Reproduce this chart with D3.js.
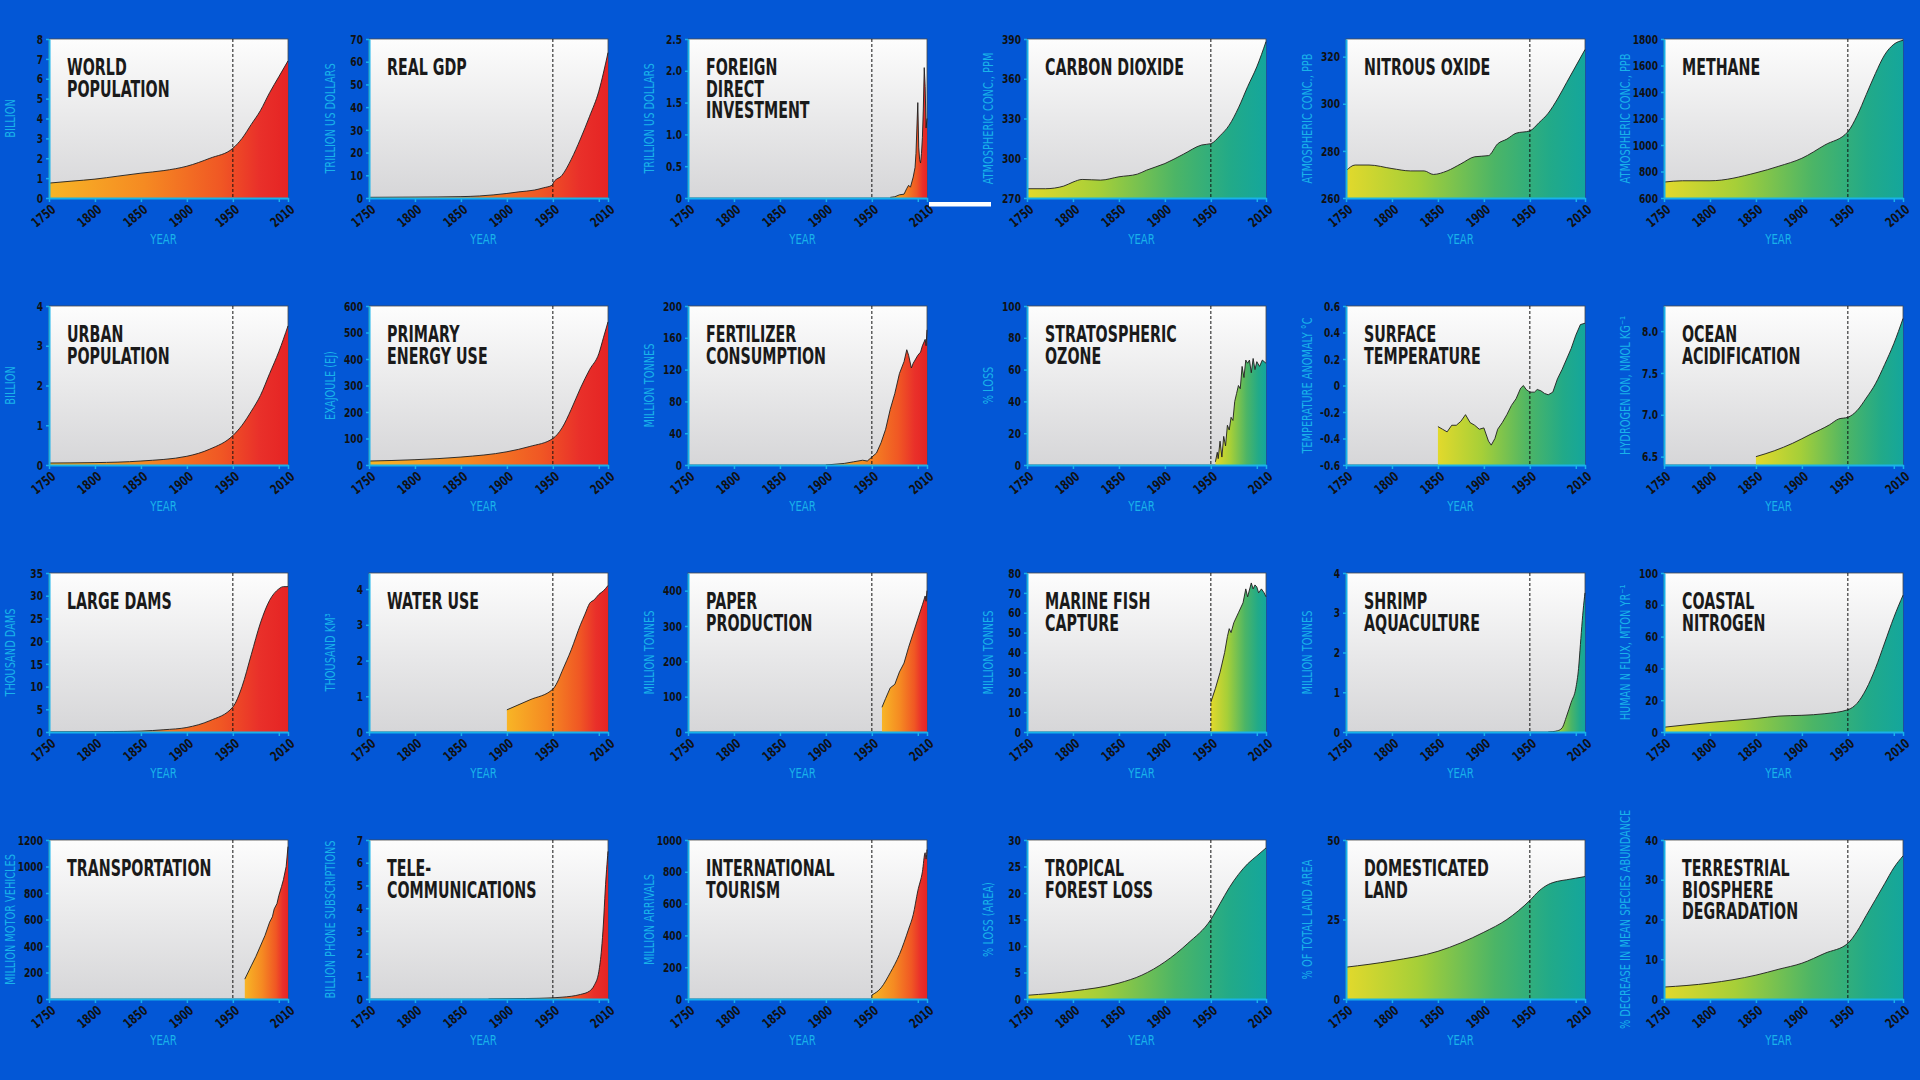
<!DOCTYPE html>
<html>
<head>
<meta charset="utf-8">
<script src="https://cdnjs.cloudflare.com/ajax/libs/d3/7.8.5/d3.min.js"></script>
<style>
  body { margin: 0; background: #0357d6; }
  svg { display: block; }
  .tick text { font-family: "DejaVu Sans", sans-serif; font-weight: bold; fill: #111; }
</style>
</head>
<body>
<svg id="chart" width="1920" height="1080"></svg>
<script>
// ---- data ----
const worldPopulation = [[1750,0.75],[1775,0.85],[1800,0.95],[1825,1.1],[1850,1.25],[1875,1.38],[1900,1.6],[1925,2.0],[1950,2.5],[1960,3.0],[1970,3.7],[1980,4.4],[1990,5.3],[2000,6.1],[2010,6.9]];
const realGdp = [[1750,0.3],[1800,0.4],[1850,0.6],[1870,0.9],[1900,2],[1913,2.7],[1930,3.5],[1940,4.5],[1949,5.6],[1951,7],[1960,10],[1970,17],[1980,26],[1990,36],[2000,47],[2005,55],[2010,64]];
const fdi = [[1970,0.01],[1975,0.02],[1980,0.05],[1985,0.06],[1988,0.15],[1990,0.2],[1992,0.17],[1995,0.33],[1997,0.48],[1998,0.7],[1999,1.1],[2000,1.5],[2001,0.8],[2002,0.6],[2003,0.55],[2004,0.7],[2005,0.95],[2006,1.4],[2007,2.05],[2008,1.75],[2009,1.1],[2010,1.25]];
const carbonDioxide = [[1750,277],[1770,277],[1790,279],[1800,282],[1810,284],[1830,283.5],[1850,286],[1870,288],[1880,291],[1900,296],[1920,303],[1940,310],[1950,311],[1960,317],[1970,325],[1980,338],[1990,354],[2000,369],[2010,388]];
const nitrousOxide = [[1750,271.5],[1760,274],[1775,274],[1800,272.5],[1820,271.5],[1835,271.5],[1845,270],[1860,271.5],[1875,274.5],[1890,277.5],[1905,278],[1915,283],[1925,285],[1935,287.5],[1950,288.5],[1960,292],[1970,296],[1980,302],[1990,309],[2000,316],[2010,323]];
const methane = [[1750,720],[1770,730],[1800,730],[1850,790],[1875,840],[1900,900],[1925,1000],[1950,1100],[1960,1220],[1970,1380],[1980,1540],[1990,1680],[2000,1760],[2010,1790]];
const urbanPopulation = [[1750,0.05],[1800,0.06],[1850,0.1],[1900,0.22],[1925,0.4],[1950,0.74],[1960,1.0],[1970,1.35],[1980,1.75],[1990,2.3],[2000,2.85],[2010,3.5]];
const energyUse = [[1750,15],[1800,20],[1850,30],[1900,50],[1925,70],[1950,100],[1960,140],[1970,210],[1980,290],[1990,360],[2000,420],[2005,480],[2010,540]];
const fertilizer = [[1900,0],[1920,2],[1930,4],[1940,6],[1945,5],[1950,10],[1955,15],[1960,28],[1965,45],[1970,70],[1975,90],[1980,115],[1985,130],[1988,145],[1990,138],[1993,122],[1995,128],[2000,138],[2003,142],[2005,150],[2008,158],[2009,150],[2010,170]];
const ozone = [[1955,2],[1957,8],[1958,4],[1960,15],[1962,5],[1964,18],[1966,12],[1968,25],[1970,22],[1972,30],[1974,28],[1976,40],[1978,45],[1980,50],[1982,48],[1984,62],[1986,55],[1988,66],[1990,64],[1992,66],[1994,58],[1996,67],[1998,60],[2000,65],[2003,62],[2006,66],[2010,64]];
const surfaceTemp = [[1850,-0.31],[1855,-0.33],[1860,-0.35],[1865,-0.3],[1870,-0.3],[1875,-0.27],[1880,-0.22],[1885,-0.28],[1890,-0.3],[1895,-0.33],[1900,-0.32],[1905,-0.42],[1908,-0.45],[1912,-0.4],[1915,-0.33],[1920,-0.28],[1925,-0.22],[1930,-0.15],[1935,-0.1],[1940,-0.02],[1943,0.0],[1946,-0.03],[1950,-0.05],[1955,-0.05],[1958,-0.03],[1962,-0.04],[1966,-0.06],[1970,-0.07],[1975,-0.05],[1980,0.05],[1985,0.12],[1990,0.2],[1995,0.28],[2000,0.38],[2005,0.46],[2010,0.47]];
const oceanAcid = [[1850,6.5],[1870,6.57],[1890,6.66],[1910,6.77],[1930,6.88],[1940,6.95],[1950,6.97],[1960,7.05],[1970,7.2],[1980,7.37],[1990,7.6],[2000,7.85],[2010,8.15]];
const largeDams = [[1750,0],[1800,0.05],[1820,0.1],[1850,0.2],[1875,0.5],[1900,1],[1925,2.5],[1950,5.5],[1960,10],[1970,17],[1980,24],[1990,29],[2000,31.5],[2005,32],[2010,32]];
const waterUse = [[1900,0.62],[1925,0.9],[1950,1.2],[1955,1.4],[1960,1.7],[1970,2.3],[1980,3.0],[1985,3.3],[1990,3.6],[1995,3.7],[2000,3.85],[2005,3.95],[2010,4.1]];
const paper = [[1961,70],[1965,95],[1970,125],[1975,135],[1980,170],[1985,195],[1990,240],[1995,280],[2000,320],[2005,360],[2008,385],[2009,370],[2010,400]];
const marineFish = [[1950,15],[1955,22],[1960,30],[1965,40],[1968,48],[1970,52],[1972,50],[1975,55],[1980,60],[1985,65],[1988,72],[1990,68],[1994,75],[1996,72],[1998,74],[2000,73],[2002,70],[2005,72],[2008,70],[2010,68]];
const shrimp = [[1970,0],[1975,0.01],[1980,0.03],[1985,0.1],[1990,0.4],[1995,0.75],[2000,1.1],[2003,1.6],[2005,2.2],[2007,2.8],[2009,3.3],[2010,3.5]];
const coastalN = [[1750,3],[1800,6],[1850,8.5],[1875,10],[1900,10.5],[1925,11.5],[1950,14],[1960,18],[1970,27],[1980,40],[1990,56],[2000,72],[2010,86]];
const transport = [[1963,150],[1970,250],[1975,320],[1980,400],[1985,480],[1990,580],[1993,620],[1995,680],[1998,720],[2000,780],[2003,850],[2005,900],[2008,1000],[2010,1150]];
const telecom = [[1880,0],[1920,0.02],[1950,0.05],[1960,0.08],[1970,0.12],[1980,0.2],[1990,0.35],[1995,0.6],[2000,1.2],[2003,2.2],[2005,3.3],[2007,4.8],[2010,6.5]];
const tourism = [[1950,25],[1960,70],[1970,165],[1980,280],[1990,440],[1995,530],[2000,680],[2005,800],[2008,920],[2009,880],[2010,940]];
const forestLoss = [[1750,0.7],[1800,1.5],[1850,3],[1875,4.5],[1900,7],[1925,10.5],[1950,15],[1960,18],[1970,21],[1980,23.5],[1990,25.5],[2000,27],[2010,28.5]];
const domesticatedLand = [[1750,10],[1800,12],[1850,15],[1900,21],[1925,25],[1950,31],[1960,34],[1970,36],[1980,37],[1990,37.5],[2000,38],[2010,38.5]];
const biosphere = [[1750,3],[1800,4],[1850,6],[1875,7.5],[1900,9],[1925,11.5],[1950,14],[1960,17],[1970,21],[1980,25],[1990,29],[2000,33],[2010,36]];

const yearTicks = [1750, 1800, 1850, 1900, 1950, 2000, 2010];

// row by row, left to right
const charts = [
  {title: ["WORLD", "POPULATION"], unit: "BILLION", data: worldPopulation, domain: [0, 8], ticks: d3.range(0, 9), kind: "socio"},
  {title: ["REAL GDP"], unit: "TRILLION US DOLLARS", data: realGdp, domain: [0, 70], ticks: d3.range(0, 71, 10), kind: "socio"},
  {title: ["FOREIGN", "DIRECT", "INVESTMENT"], unit: "TRILLION US DOLLARS", data: fdi, domain: [0, 2.5], ticks: [0, 0.5, 1, 1.5, 2, 2.5], fmt: d => d === 0 ? "0" : d3.format(".1f")(d), kind: "socio", linear: true},
  {title: ["CARBON DIOXIDE"], unit: "ATMOSPHERIC CONC., PPM", data: carbonDioxide, domain: [270, 390], ticks: [270, 300, 330, 360, 390], kind: "earth"},
  {title: ["NITROUS OXIDE"], unit: "ATMOSPHERIC CONC., PPB", data: nitrousOxide, domain: [260, 327.5], ticks: [260, 280, 300, 320], kind: "earth"},
  {title: ["METHANE"], unit: "ATMOSPHERIC CONC., PPB", data: methane, domain: [600, 1800], ticks: d3.range(600, 1801, 200), kind: "earth"},

  {title: ["URBAN", "POPULATION"], unit: "BILLION", data: urbanPopulation, domain: [0, 4], ticks: d3.range(0, 5), kind: "socio"},
  {title: ["PRIMARY", "ENERGY USE"], unit: "EXAJOULE (EJ)", data: energyUse, domain: [0, 600], ticks: d3.range(0, 601, 100), kind: "socio"},
  {title: ["FERTILIZER", "CONSUMPTION"], unit: "MILLION TONNES", data: fertilizer, domain: [0, 200], ticks: d3.range(0, 201, 40), kind: "socio", linear: true},
  {title: ["STRATOSPHERIC", "OZONE"], unit: "% LOSS", data: ozone, domain: [0, 100], ticks: d3.range(0, 101, 20), kind: "earth", linear: true},
  {title: ["SURFACE", "TEMPERATURE"], unit: "TEMPERATURE ANOMALY °C", data: surfaceTemp, domain: [-0.6, 0.6], ticks: [-0.6, -0.4, -0.2, 0, 0.2, 0.4, 0.6], fmt: d => Math.abs(d) < 1e-9 ? "0" : d3.format(".1f")(d).replace("−", "-"), kind: "earth", linear: true},
  {title: ["OCEAN", "ACIDIFICATION"], unit: "HYDROGEN ION, NMOL KG⁻¹", data: oceanAcid, domain: [6.4, 8.3], ticks: [6.5, 7, 7.5, 8], fmt: d3.format(".1f"), kind: "earth"},

  {title: ["LARGE DAMS"], unit: "THOUSAND DAMS", data: largeDams, domain: [0, 35], ticks: d3.range(0, 36, 5), kind: "socio"},
  {title: ["WATER USE"], unit: "THOUSAND KM³", data: waterUse, domain: [0, 4.45], ticks: d3.range(0, 5), kind: "socio"},
  {title: ["PAPER", "PRODUCTION"], unit: "MILLION TONNES", data: paper, domain: [0, 450], ticks: d3.range(0, 401, 100), kind: "socio", linear: true},
  {title: ["MARINE FISH", "CAPTURE"], unit: "MILLION TONNES", data: marineFish, domain: [0, 80], ticks: d3.range(0, 81, 10), kind: "earth", linear: true},
  {title: ["SHRIMP", "AQUACULTURE"], unit: "MILLION TONNES", data: shrimp, domain: [0, 4], ticks: d3.range(0, 5), kind: "earth"},
  {title: ["COASTAL", "NITROGEN"], unit: "HUMAN N FLUX, MTON YR⁻¹", data: coastalN, domain: [0, 100], ticks: d3.range(0, 101, 20), kind: "earth"},

  {title: ["TRANSPORTATION"], unit: "MILLION MOTOR VEHICLES", data: transport, domain: [0, 1200], ticks: d3.range(0, 1201, 200), kind: "socio", linear: true},
  {title: ["TELE-", "COMMUNICATIONS"], unit: "BILLION PHONE SUBSCRIPTIONS", data: telecom, domain: [0, 7], ticks: d3.range(0, 8), kind: "socio"},
  {title: ["INTERNATIONAL", "TOURISM"], unit: "MILLION ARRIVALS", data: tourism, domain: [0, 1000], ticks: d3.range(0, 1001, 200), kind: "socio"},
  {title: ["TROPICAL", "FOREST LOSS"], unit: "% LOSS (AREA)", data: forestLoss, domain: [0, 30], ticks: d3.range(0, 31, 5), kind: "earth"},
  {title: ["DOMESTICATED", "LAND"], unit: "% OF TOTAL LAND AREA", data: domesticatedLand, domain: [0, 50], ticks: [0, 25, 50], kind: "earth"},
  {title: ["TERRESTRIAL", "BIOSPHERE", "DEGRADATION"], unit: "% DECREASE IN MEAN SPECIES ABUNDANCE", data: biosphere, domain: [0, 40], ticks: d3.range(0, 41, 10), kind: "earth"}
];

// ---- layout ----
const colX = [49, 369, 688, 1027, 1346, 1664];
const rowY = [39, 306, 573, 840];
const W = 239, H = 159;
const cyan = "#19b2ea";
const font = '"DejaVu Sans", sans-serif';
const squeeze = 0.7;      // no condensed face installed, so narrow the glyphs by hand
const titleSqueeze = 0.62;

const svg = d3.select("#chart");
svg.append("rect").attr("width", 1920).attr("height", 1080).attr("fill", "#0357d6");

const defs = svg.append("defs");
const bg = defs.append("linearGradient").attr("id", "plotBg").attr("x1", 0).attr("y1", 0).attr("x2", 0).attr("y2", 1);
bg.append("stop").attr("offset", 0).attr("stop-color", "#fdfdfd");
bg.append("stop").attr("offset", 0.5).attr("stop-color", "#e9e9ea");
bg.append("stop").attr("offset", 1).attr("stop-color", "#d6d6d8");

const socio = defs.append("linearGradient").attr("id", "grad-socio").attr("x1", 0).attr("y1", 0).attr("x2", 1).attr("y2", 0);
[[0, "#f8b526"], [0.4, "#f58a22"], [0.72, "#f05724"], [0.88, "#e9302a"], [1, "#e52424"]]
  .forEach(s => socio.append("stop").attr("offset", s[0]).attr("stop-color", s[1]));
const earth = defs.append("linearGradient").attr("id", "grad-earth").attr("x1", 0).attr("y1", 0).attr("x2", 1).attr("y2", 0);
[[0, "#e2d92c"], [0.3, "#a6cf38"], [0.62, "#4cb566"], [0.85, "#22aa88"], [1, "#14a69c"]]
  .forEach(s => earth.append("stop").attr("offset", s[0]).attr("stop-color", s[1]));

charts.forEach((c, i) => {
  const px = colX[i % 6], py = rowY[Math.floor(i / 6)];
  const g = svg.append("g").attr("transform", `translate(${px},${py})`);

  const x = d3.scaleLinear().domain([1750, 2010]).range([0, W]);
  const y = d3.scaleLinear().domain(c.domain).range([H, 0]);

  g.append("rect").attr("width", W).attr("height", H)
    .attr("fill", "url(#plotBg)").attr("stroke", "#4a4a4a").attr("stroke-width", 0.8);

  // title, one text per line
  c.title.forEach((line, k) => {
    g.append("text").attr("transform", `translate(18,${36 + k * 21.5}) scale(${titleSqueeze},1)`)
      .attr("font-family", font).attr("font-weight", "bold").attr("font-size", 23)
      .attr("fill", "#1a1a1a").text(line);
  });

  const area = d3.area()
    .x(d => x(d[0])).y0(H).y1(d => y(d[1]))
    .curve(c.linear ? d3.curveLinear : d3.curveMonotoneX);
  const line = d3.line()
    .x(d => x(d[0])).y(d => y(d[1]))
    .curve(c.linear ? d3.curveLinear : d3.curveMonotoneX);

  g.append("path").datum(c.data).attr("d", area).attr("fill", `url(#grad-${c.kind})`);
  g.append("path").datum(c.data).attr("d", line)
    .attr("fill", "none").attr("stroke", "#1e1e1e").attr("stroke-width", 0.9);

  // 1950 marker
  g.append("line").attr("x1", x(1950)).attr("x2", x(1950)).attr("y1", 0).attr("y2", H)
    .attr("stroke", "#111").attr("stroke-width", 1).attr("stroke-dasharray", "3,2");

  // axes
  const ya = g.append("g").call(d3.axisLeft(y).tickValues(c.ticks).tickSize(3).tickSizeOuter(0).tickPadding(3)
    .tickFormat(c.fmt || (d => d)));
  ya.selectAll("text").attr("font-size", 13)
    .attr("x", -6 / squeeze).attr("transform", `scale(${squeeze},1)`);
  ya.select(".domain").attr("stroke", cyan).attr("stroke-width", 2);
  ya.selectAll(".tick line").attr("stroke", cyan).attr("stroke-width", 1.5);

  const xa = g.append("g").attr("transform", `translate(0,${H})`)
    .call(d3.axisBottom(x).tickValues(yearTicks).tickSize(4).tickSizeOuter(0)
      .tickFormat(d => d === 2000 ? "" : d));
  xa.select(".domain").attr("stroke", cyan).attr("stroke-width", 2);
  xa.selectAll(".tick line").attr("stroke", cyan).attr("stroke-width", 1.5);
  xa.selectAll("text")
    .attr("font-size", 13.5).attr("y", 0).attr("dy", 0)
    .attr("text-anchor", "end")
    .attr("transform", `translate(7,13) rotate(-40) scale(${squeeze},1)`)
    .attr("fill", d => d === 1950 ? "#e8202a" : "#111");

  g.append("text").attr("transform", `translate(${W / 2 - 5},${H + 46}) scale(${squeeze},1)`)
    .attr("text-anchor", "middle")
    .attr("font-family", font).attr("font-size", 14.5).attr("fill", cyan).text("YEAR");

  g.append("text").attr("transform", `translate(-34,${H / 2}) rotate(-90) scale(${squeeze},1)`)
    .attr("text-anchor", "middle")
    .attr("font-family", font).attr("font-size", 14).attr("fill", cyan).text(c.unit);
});

// stray white bar between the third and fourth columns
svg.append("rect").attr("x", 929).attr("y", 202).attr("width", 62).attr("height", 4.5).attr("fill", "#fff");
</script>
</body>
</html>
